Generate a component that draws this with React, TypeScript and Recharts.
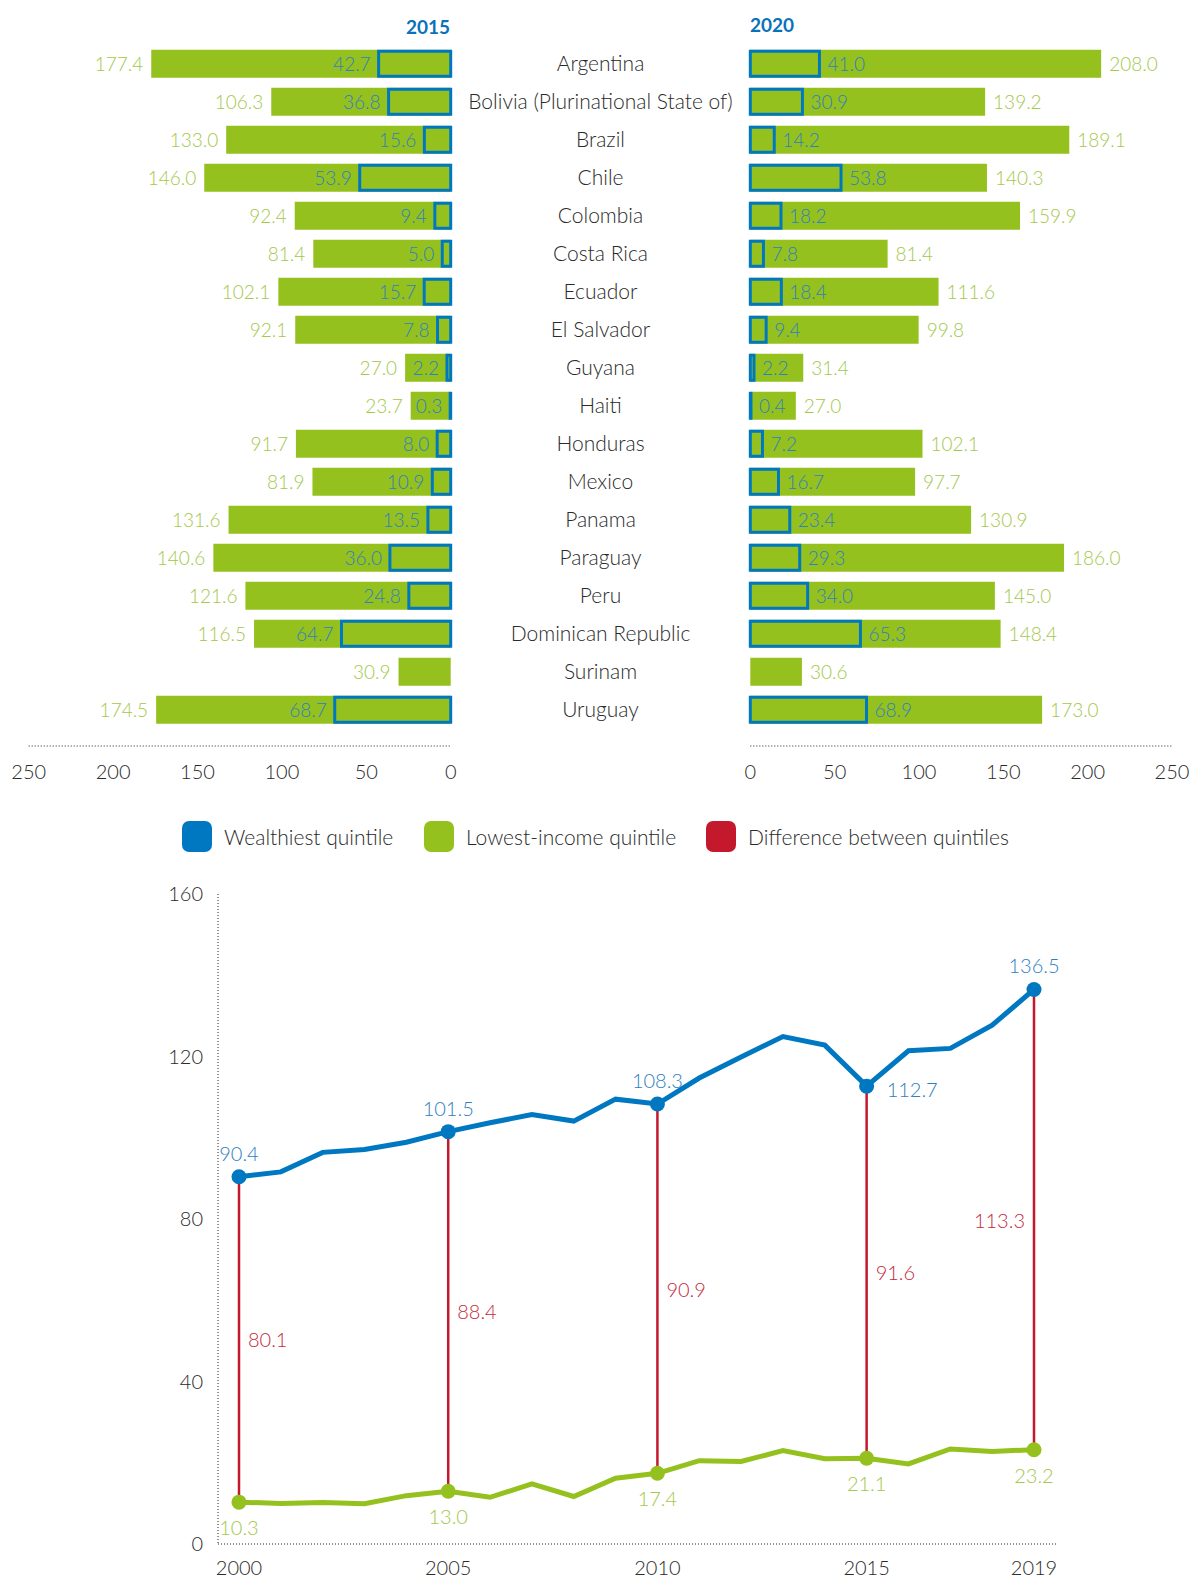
import React from 'react';
import { BarChart, Bar, XAxis, YAxis, LabelList, LineChart, Line, ReferenceLine } from 'recharts';

// top panel: values by country, lowest-income vs wealthiest quintile
const countries = [
  'Argentina',
  'Bolivia (Plurinational State of)',
  'Brazil',
  'Chile',
  'Colombia',
  'Costa Rica',
  'Ecuador',
  'El Salvador',
  'Guyana',
  'Haiti',
  'Honduras',
  'Mexico',
  'Panama',
  'Paraguay',
  'Peru',
  'Dominican Republic',
  'Surinam',
  'Uruguay',
];
const lowest2015 = [177.4, 106.3, 133.0, 146.0, 92.4, 81.4, 102.1, 92.1, 27.0, 23.7, 91.7, 81.9, 131.6, 140.6, 121.6, 116.5, 30.9, 174.5];
const wealthiest2015 = [42.7, 36.8, 15.6, 53.9, 9.4, 5.0, 15.7, 7.8, 2.2, 0.3, 8.0, 10.9, 13.5, 36.0, 24.8, 64.7, null, 68.7];
const lowest2020 = [208.0, 139.2, 189.1, 140.3, 159.9, 81.4, 111.6, 99.8, 31.4, 27.0, 102.1, 97.7, 130.9, 186.0, 145.0, 148.4, 30.6, 173.0];
const wealthiest2020 = [41.0, 30.9, 14.2, 53.8, 18.2, 7.8, 18.4, 9.4, 2.2, 0.4, 7.2, 16.7, 23.4, 29.3, 34.0, 65.3, null, 68.9];
const barTicks = [0, 50, 100, 150, 200, 250];

// bottom panel: regional trend
const years = [2000, 2001, 2002, 2003, 2004, 2005, 2006, 2007, 2008, 2009, 2010, 2011, 2012, 2013, 2014, 2015, 2016, 2017, 2018, 2019];
const wealthiestTrend = [90.4, 91.6, 96.4, 97.1, 98.9, 101.5, 103.7, 105.7, 104.1, 109.5, 108.3, 114.7, 119.9, 124.9, 122.8, 112.7, 121.4, 122.0, 127.7, 136.5];
const lowestTrend = [10.3, 10.0, 10.2, 9.9, 11.9, 13.0, 11.5, 14.8, 11.7, 16.2, 17.4, 20.5, 20.3, 23.0, 21.0, 21.1, 19.7, 23.4, 22.8, 23.2];
const keyYears = [2000, 2005, 2010, 2015, 2019];
const gapValues = [80.1, 88.4, 90.9, 91.6, 113.3];
const trendTicks = [0, 40, 80, 120, 160];

const legendItems = [
  { label: 'Wealthiest quintile', color: '#0078c1' },
  { label: 'Lowest-income quintile', color: '#95c11f' },
  { label: 'Difference between quintiles', color: '#c4182d' },
];

const BLUE = '#0078c1';
const GREEN = '#95c11f';
const RED = '#c4182d';
const BLUE_TEXT = '#2f80c0';
const GREEN_TEXT = '#a3c84a';
const RED_TEXT = '#c42a3c';
const TEXT = '#2a2a2a';
const FONT = 'Lato, "Open Sans", sans-serif';

const barData2015 = countries.map((country, i) => ({ country, low: lowest2015[i], high: wealthiest2015[i] }));
const barData2020 = countries.map((country, i) => ({ country, low: lowest2020[i], high: wealthiest2020[i] }));

const trendData = years.map((year, i) => {
  const k = keyYears.indexOf(year);
  return {
    year,
    high: wealthiestTrend[i],
    low: lowestTrend[i],
    mid: k >= 0 ? (wealthiestTrend[i] + lowestTrend[i]) / 2 : null,
    gap: k >= 0 ? gapValues[k] : null,
  };
});

const tickStyle = { fill: TEXT, fontSize: 20, fontFamily: FONT, fontWeight: 300 };
const dotted = { stroke: '#222', strokeDasharray: '1 2', strokeWidth: 1 };

const valueLabel = (side: 'left' | 'right', color: string) => (props: any) => {
  const b = props.viewBox || props;
  const { x, y, width, height } = b;
  if (props.value == null) return null;
  const far = side === 'left' ? Math.min(x, x + width) : Math.max(x, x + width);
  return (
    <text
      x={side === 'left' ? far - 8 : far + 8}
      y={y + height / 2}
      textAnchor={side === 'left' ? 'end' : 'start'}
      dominantBaseline="central"
      fill={color}
      fontSize={19}
      fontFamily={FONT}
      fontWeight={300}
    >
      {Number(props.value).toFixed(1)}
    </text>
  );
};

const CountryTick = (props: any) => {
  const { x, y, payload } = props;
  return (
    <text x={x + 149.8} y={y} textAnchor="middle" dominantBaseline="central" fill={TEXT} fontSize={21} fontFamily={FONT} fontWeight={300}>
      {payload.value}
    </text>
  );
};

const trendDot = (color: string, labelColor: string, below: boolean) => (props: any) => {
  const { cx, cy, payload, index } = props;
  if (!keyYears.includes(payload.year) || cy == null) return <g key={`dot-${index}`} />;
  const value = below ? payload.low : payload.high;
  const toRight = !below && payload.year === 2015;
  return (
    <g key={`dot-${index}`}>
      <circle cx={cx} cy={cy} r={7.5} fill={color} />
      <text
        x={toRight ? cx + 20 : cx}
        y={toRight ? cy + 3 : below ? cy + 25 : cy - 24}
        textAnchor={toRight ? 'start' : 'middle'}
        dominantBaseline="central"
        fill={labelColor}
        fontSize={20}
        fontFamily={FONT}
        fontWeight={300}
      >
        {value.toFixed(1)}
      </text>
    </g>
  );
};

// difference labels sit at the midpoint; the last one goes on the left of its line
const gapDot = (props: any) => {
  const { cx, cy, payload, index } = props;
  if (payload.gap == null || cy == null) return <g key={`gap-${index}`} />;
  const last = payload.year === keyYears[keyYears.length - 1];
  return (
    <text
      key={`gap-${index}`}
      x={last ? cx - 9 : cx + 9}
      y={cy}
      textAnchor={last ? 'end' : 'start'}
      dominantBaseline="central"
      fill={RED_TEXT}
      fontSize={20}
      fontFamily={FONT}
      fontWeight={300}
    >
      {payload.gap.toFixed(1)}
    </text>
  );
};

const App: React.FC = () => {
  return (
    <div style={{ position: 'absolute', left: 0, top: 0, width: 1192, height: 1579, background: '#fff', fontFamily: FONT }}>
      <div style={{ position: 'absolute', left: 350, top: 15, width: 100, textAlign: 'right', fontSize: 19, fontWeight: 700, color: '#0a72ba', lineHeight: '24px' }}>
        2015
      </div>
      <div style={{ position: 'absolute', left: 750, top: 13, fontSize: 19, fontWeight: 700, color: '#0a72ba', lineHeight: '24px' }}>
        2020
      </div>

      <div style={{ position: 'absolute', left: 0, top: 0 }}>
        <BarChart width={750} height={790} data={barData2015} layout="vertical" margin={{ top: 43.8, right: 0, bottom: 0, left: 28.7 }} barGap={-26.5}>
          <XAxis type="number" domain={[0, 250]} ticks={barTicks} reversed axisLine={dotted} tickLine={false} tickSize={0} tickMargin={19} height={44} tick={tickStyle} />
          <YAxis
            type="category"
            dataKey="country"
            orientation="right"
            width={299.3}
            axisLine={false}
            tickLine={false}
            tickSize={0}
            tickMargin={0}
            interval={0}
            padding={{ top: 0, bottom: 18.2 }}
            tick={<CountryTick />}
          />
          <Bar dataKey="low" fill={GREEN} barSize={28} isAnimationActive={false}>
            <LabelList dataKey="low" content={valueLabel('left', GREEN_TEXT)} />
          </Bar>
          <Bar dataKey="high" fill="none" stroke={BLUE} strokeWidth={3} barSize={25} isAnimationActive={false}>
            <LabelList dataKey="high" content={valueLabel('left', BLUE_TEXT)} />
          </Bar>
        </BarChart>
      </div>

      <div style={{ position: 'absolute', left: 700, top: 0 }}>
        <BarChart width={492} height={790} data={barData2020} layout="vertical" margin={{ top: 43.8, right: 20, bottom: 0, left: 50.3 }} barGap={-26.5}>
          <XAxis type="number" domain={[0, 250]} ticks={barTicks} axisLine={dotted} tickLine={false} tickSize={0} tickMargin={19} height={44} tick={tickStyle} />
          <YAxis type="category" dataKey="country" hide padding={{ top: 0, bottom: 18.2 }} />
          <Bar dataKey="low" fill={GREEN} barSize={28} isAnimationActive={false}>
            <LabelList dataKey="low" content={valueLabel('right', GREEN_TEXT)} />
          </Bar>
          <Bar dataKey="high" fill="none" stroke={BLUE} strokeWidth={3} barSize={25} isAnimationActive={false}>
            <LabelList dataKey="high" content={valueLabel('right', BLUE_TEXT)} />
          </Bar>
        </BarChart>
      </div>

      {legendItems.map((item, i) => (
        <div
          key={item.label}
          style={{ position: 'absolute', left: [182, 424, 706][i], top: 821, display: 'flex', alignItems: 'center', height: 31 }}
        >
          <span style={{ width: 30, height: 31, borderRadius: 7, background: item.color, display: 'inline-block' }} />
          <span style={{ marginLeft: 12, fontSize: 21, fontWeight: 300, color: TEXT }}>{item.label}</span>
        </div>
      ))}

      <div style={{ position: 'absolute', left: 0, top: 860 }}>
        <LineChart width={1192} height={719} data={trendData} margin={{ top: 34, right: 135, bottom: 0, left: 0 }}>
          <XAxis
            type="number"
            dataKey="year"
            domain={[2000, 2019]}
            ticks={keyYears}
            padding={{ left: 21, right: 23 }}
            axisLine={dotted}
            tickLine={false}
            tickSize={0}
            tickMargin={17}
            height={35}
            tick={tickStyle}
          />
          <YAxis domain={[0, 160]} ticks={trendTicks} width={218} axisLine={dotted} tickLine={false} tickSize={0} tickMargin={15} tick={tickStyle} />
          {keyYears.map((yr) => {
            const i = years.indexOf(yr);
            return (
              <ReferenceLine
                key={yr}
                segment={[
                  { x: yr, y: lowestTrend[i] },
                  { x: yr, y: wealthiestTrend[i] },
                ]}
                stroke={RED}
                strokeWidth={2.5}
              />
            );
          })}
          <Line dataKey="mid" stroke="none" dot={gapDot} activeDot={false} isAnimationActive={false} legendType="none" />
          <Line dataKey="high" stroke={BLUE} strokeWidth={5} dot={trendDot(BLUE, BLUE_TEXT, false)} activeDot={false} isAnimationActive={false} />
          <Line dataKey="low" stroke={GREEN} strokeWidth={5} dot={trendDot(GREEN, GREEN_TEXT, true)} activeDot={false} isAnimationActive={false} />
        </LineChart>
      </div>
    </div>
  );
};

export default App;
